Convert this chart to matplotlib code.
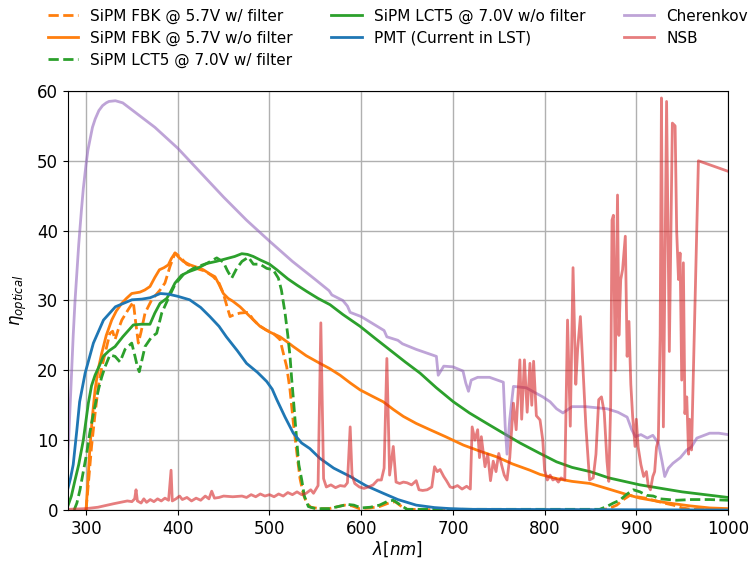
import matplotlib
matplotlib.use("Agg")
import matplotlib.pyplot as plt

# wavelength [nm] / efficiency [%]
fbk_filt_x = [300, 303, 306, 310, 313.4, 317, 320.7, 326, 329, 331.6, 335, 339, 346, 351.5, 354, 357, 360, 364.3,
              371.6, 380.7, 386, 391.6, 397, 402, 409.8, 420, 430, 438.8, 445, 449.7, 454, 457, 462, 467.9, 477,
              482, 488, 496, 504, 511.5, 515, 518.8, 522.4, 526, 530, 533.3, 537, 540.6, 545, 555, 565, 575, 582,
              590, 598, 610, 620, 630, 637, 643, 650, 700, 860, 870, 878.7, 886, 893, 900.5, 910, 918.6, 930,
              940.4, 950, 960, 1000]
fbk_filt_y = [0, 4.5, 9.1, 14, 17.7, 20.3, 22.4, 25.3, 25.6, 24.4, 25.8, 27.2, 28.7, 29.8, 27, 23.9, 25.5, 28.2,
              30.1, 31.5, 32.5, 34.9, 36.8, 36.3, 35.2, 34.6, 34.2, 33.4, 32.5, 31, 29, 27.7, 28, 28.2, 28.3,
              27.3, 26.5, 25.8, 25.3, 24.4, 22.5, 20.5, 17.2, 12.5, 8, 4.5, 2.2, 1.0, 0.4, 0.2, 0.2, 0.5, 0.7,
              0.6, 0.2, 0.3, 0.5, 1.0, 1.2, 0.6, 0.1, 0, 0, 0.2, 0.7, 1.5, 2.1, 1.9, 1.7, 1.4, 1.0,
              0.7, 0.3, 0.1, 0]

fbk_x = [300, 302, 304.3, 307, 309.8, 313, 317, 322, 328, 333, 339, 344, 349.8, 358.8, 364, 369.7, 375, 380, 385,
         389.7, 393, 397, 401, 406, 413.4, 420, 427.9, 435, 440.6, 445, 449.7, 455, 460, 467.9, 478, 489.7, 500,
         511.5, 519, 526, 540, 555, 565, 577, 588, 598.8, 612, 624, 635, 646, 660, 675, 692, 711.4, 730, 748,
         765, 784, 795, 813, 830, 849.6, 870, 890, 904, 930, 958, 980, 1000]
fbk_y = [0, 4, 9.1, 13.5, 17.2, 20, 22.4, 25, 27.2, 28.5, 29.6, 30.3, 31, 31.2, 31.5, 32, 33.3, 34.4, 34.7,
         35.1, 36, 36.8, 36.2, 35.6, 35.1, 34.8, 34.4, 33.8, 33.4, 32.3, 31, 30.3, 29.9, 29.1, 27.8, 26.3, 25.5,
         24.8, 24.1, 23.4, 22.1, 21, 20.3, 19.3, 18.2, 17.2, 16.3, 15.5, 14.4, 13.4, 12.4, 11.5, 10.5, 9.3, 8.4, 7.6,
         6.6, 5.7, 5.1, 4.5, 4.1, 3.8, 3.0, 2.2, 1.7, 1.1, 0.6, 0.3, 0.2]

lct5_filt_x = [287, 290, 293.4, 297, 300.7, 304, 308, 313.4, 317, 320.7, 326, 331.6, 337, 342.5, 349.8, 353.4, 356,
               358, 361, 364.3, 371.6, 377, 382.5, 389.7, 397, 406, 417, 425, 431.6, 442.5, 449.7, 454, 458.8,
               464.3, 470, 477, 482.4, 489.7, 497, 504, 509.7, 513, 517, 520, 522.4, 524.3, 526, 529.7, 532,
               535.2, 538, 542.4, 550, 565, 575, 585, 592, 600, 610, 620, 628, 635, 642, 650, 700, 860, 867.8,
               875, 882, 889, 896.8, 904, 911.4, 918.6, 925.9, 935, 944, 960, 980, 1000]
lct5_filt_y = [0, 1, 2.9, 5.5, 8.1, 11, 13.8, 17.2, 19, 20.5, 22.2, 22, 21.2, 23, 23.9, 22, 20.5,
               19.8, 21.5, 23.4, 24.8, 25.3, 28.2, 30.3, 32.3, 33.7, 34.6, 35, 35.3, 36.1, 35.5, 34.3, 33.2,
               34.6, 35.6, 36.2, 35.2, 35.2, 34.6, 34.4, 33.2, 31.5, 28.2, 25, 22, 18.6, 16, 10, 6.5,
               4.3, 2, 0.5, 0.2, 0.2, 0.5, 0.8, 0.7, 0.3, 0.4, 0.7, 1.2, 1.4, 0.8, 0.1, 0.1, 0.1, 0.5,
               1.0, 1.4, 2.2, 2.9, 2.6, 2.1, 2.0, 1.6, 1.5, 1.4, 1.5, 1.5, 1.4]

lct5_x = [280, 284, 288, 292, 297, 302.5, 306, 309.8, 315, 318.8, 325, 331.6, 340, 351.5, 360, 369.7, 375, 380.7,
          388, 392, 397, 404, 411.5, 420, 431.6, 442, 453.4, 462, 469.8, 476, 482.4, 490, 500, 508, 520, 530,
          540.6, 553, 566, 580, 598.8, 615, 631.5, 648, 664.2, 682, 700.5, 718, 737, 755, 773.2, 795, 813, 830,
          849.6, 870, 904, 950, 1000]
lct5_y = [0.5, 2, 4.3, 6.5, 10, 15.3, 17.8, 19.3, 20.8, 22, 22.8, 23.4, 24.8, 26.5, 26.6, 26.6, 28.2, 29.6,
          30.3, 31.2, 32.5, 33.6, 34.1, 34.5, 35.3, 35.6, 36, 36.3, 36.7, 36.6, 36.3, 35.8, 35.2, 34.4, 33.1, 32.2,
          31.3, 30.3, 29.4, 28, 26.3, 24.6, 22.9, 21.2, 19.6, 17.5, 15.5, 13.9, 12.4, 11, 9.6, 8.1, 6.9, 6.1,
          5.5, 4.6, 3.6, 2.6, 1.8]

pmt_x = [280, 283, 286, 290, 293, 299, 308, 319, 332, 350, 361, 370, 381, 390, 400, 413, 425, 435, 445, 453, 465,
         475, 487, 497, 503, 508, 517, 526, 535, 544, 555, 570, 588, 605, 624, 640, 660, 680, 697, 720, 1000]
pmt_y = [3, 4.5, 6.5, 11.5, 15.5, 19.6, 23.9, 27.2, 29.1, 30.1, 30.2, 30.4, 31, 30.9, 30.6, 30.1, 29, 27.7, 26.3,
         24.8, 22.8, 21, 19.7, 18.4, 17.3, 15.8, 13.3, 11, 9.6, 8.8, 7.4, 6, 4.8, 3.5, 2.4, 1.5, 0.7, 0.35, 0.2,
         0.1, 0]

cher_x = [280, 281, 282, 284, 286, 288, 290, 292, 295, 297, 300, 302, 305, 307, 310, 314, 318, 322, 325, 332, 340,
          350, 375, 400, 425, 450, 475, 500, 525, 550, 565, 568, 580, 585, 588, 600, 625, 628, 640, 645, 660, 682,
          684, 690, 700, 711, 714, 717, 720, 727, 740, 755, 757, 759, 762, 766, 780, 791, 798, 806, 813, 820, 830,
          845, 860, 868, 880, 890, 895, 899, 905, 912, 918, 924, 928, 931, 935, 940, 948, 955, 960, 966, 972, 980,
          990, 1000]
cher_y = [7, 10, 13, 19, 25, 30, 34, 38, 43, 46, 49.5, 51.5, 53.5, 54.8, 56, 57.2, 57.9, 58.3, 58.5, 58.6, 58.3,
          57.3, 54.8, 51.8, 48.3, 44.8, 41.5, 38.5, 35.6, 33, 31.4, 30.8, 30, 29.2, 28.3, 27.7, 25.7, 24.8, 24.3,
          23.8, 23, 22, 19.3, 20.6, 20.5, 19.9, 18.2, 17, 18.6, 19, 19, 18.3, 12, 8, 13, 17.7, 17.5, 16.7, 16.2,
          15.5, 14.5, 13.9, 14.8, 14.8, 14.6, 14.5, 14, 13.3, 11.5, 10.5, 10.8, 10.3, 10.7, 9.6, 7, 4.8, 6, 6.7,
          7.5, 8.6, 9, 10.3, 10.6, 11, 11, 10.8]

nsb_x = [280, 300, 313, 330, 345, 350, 353, 354.5, 356, 360, 363, 366, 370, 374, 378, 382, 386, 390, 392.7, 394,
         398, 402, 405, 410, 415, 420, 425, 430, 434, 437, 440, 445, 450, 460, 470, 475, 480, 485, 490, 495, 500,
         505, 510, 515, 520, 525, 530, 535, 540, 545, 548, 553, 556, 559, 562, 567, 572, 577, 582, 585, 588, 590,
         593, 598, 603, 608, 613, 618, 622, 625, 628, 631, 635, 638, 642, 646, 650, 655, 660, 663, 667, 672, 677,
         680, 683, 686, 690, 693, 697, 700, 705, 710, 715, 719, 721, 724, 727, 729, 731, 735, 738, 741, 744, 747,
         750, 753, 756, 759, 762, 766, 769, 773, 775, 778, 781, 784, 786, 788, 791, 795, 798, 800, 803, 806, 809,
         812, 815, 818, 822, 825, 828, 831, 834, 836, 839, 842, 845, 849, 853, 856, 859, 862, 865, 868, 870, 872,
         873.5, 875, 877, 879.5, 881, 883, 885, 888, 890, 892, 894, 896, 898.6, 900, 902, 905, 908, 911, 913,
         915.4, 918, 920, 922, 924, 926, 927.4, 929.5, 933, 936, 939.3, 942.3, 944, 946, 947.7, 949.5, 951.3,
         953, 955, 957, 958, 960.2, 967.7, 1000]
nsb_y = [0.1, 0.2, 0.4, 0.9, 1.3, 1.2, 1.6, 2.9, 1.3, 1.0, 1.6, 1.1, 1.5, 1.2, 1.6, 1.3, 1.7, 1.4, 5.7, 1.3,
         1.6, 2.0, 1.5, 1.8, 1.3, 1.7, 1.4, 2.0, 1.6, 2.7, 1.7, 1.8, 2.0, 1.9, 2.0, 1.8, 2.2, 1.9, 2.3, 2.0, 2.2,
         1.9, 2.3, 2.0, 2.5, 2.2, 2.6, 2.2, 2.4, 2.9, 2.4, 3.5, 26.8, 4.5, 3.3, 3.6, 3.2, 3.5, 3.4, 3.9, 11.9, 5,
         3.8, 3.3, 3.1, 3.3, 3.6, 4.3, 4.3, 6, 21.7, 5, 9.1, 4, 3.8, 4.0, 3.9, 3.6, 4.2, 2.9, 2.8, 2.9, 3.3,
         6.2, 5.5, 5.8, 4.8, 4.2, 3.3, 3.2, 3.5, 3.0, 3.4, 3.0, 11.9, 10, 11.5, 7.5, 10.5, 6.2, 8, 4.2, 7, 5.5,
         8.1, 6.5, 5, 4.3, 7.5, 15.3, 11.5, 21.5, 13, 21.5, 14, 21, 15, 21.3, 13.5, 12.9, 10, 5.7, 4.3, 5, 4.3,
         4.5, 4.0, 4.6, 4.3, 27.2, 12, 34.7, 18, 23, 27.7, 20, 12, 4.3, 4.6, 8, 15.8, 16.2, 14, 7, 4.1, 15,
         41.5, 42.2, 20, 45.1, 25, 33, 34.4, 39.2, 22, 27, 18, 13.4, 9.1, 13, 9, 6.5, 4.8, 5.5, 3.5,
         2.9, 4.8, 5.5, 9, 10, 25, 59, 11.9, 58.5, 22.7, 55.4, 55, 40, 33, 36.8, 18.6, 35.4,
         13.8, 16.2, 8, 13, 8.6, 50, 48.5]

labels = ["SiPM FBK @ 5.7V w/ filter", "SiPM FBK @ 5.7V w/o filter", "SiPM LCT5 @ 7.0V w/ filter",
          "SiPM LCT5 @ 7.0V w/o filter", "PMT (Current in LST)", "Cherenkov", "NSB"]

fig = plt.figure(figsize=(7.49, 5.65), dpi=100)
ax = fig.add_axes([0.0904, 0.0973, 0.8816, 0.7417])

ax.plot(fbk_filt_x, fbk_filt_y, color="C1", ls="--", lw=2, label=labels[0])
ax.plot(fbk_x, fbk_y, color="C1", lw=2, label=labels[1])
ax.plot(lct5_filt_x, lct5_filt_y, color="C2", ls="--", lw=2, label=labels[2])
ax.plot(lct5_x, lct5_y, color="C2", lw=2, label=labels[3])
ax.plot(pmt_x, pmt_y, color="C0", lw=2, label=labels[4])
ax.plot(cher_x, cher_y, color="tab:purple", alpha=0.6, lw=2, label=labels[5])
ax.plot(nsb_x, nsb_y, color="tab:red", alpha=0.6, lw=2, label=labels[6])

ax.set_xlim(280, 1000)
ax.set_ylim(0, 60)
ax.set_xticks(range(300, 1001, 100))
ax.tick_params(labelsize=12)
ax.grid(True, lw=1, color="#b0b0b0")
ax.set_xlabel(r"$\lambda [nm]$", fontsize=12, labelpad=1)
ax.set_ylabel(r"$\eta_{optical}$", fontsize=12, labelpad=6)

ax.legend(loc="lower center", bbox_to_anchor=(0.5, 1.022), ncol=3, frameon=False, fontsize=11,
          columnspacing=2.5, labelspacing=0.45)

plt.savefig("out.png")
